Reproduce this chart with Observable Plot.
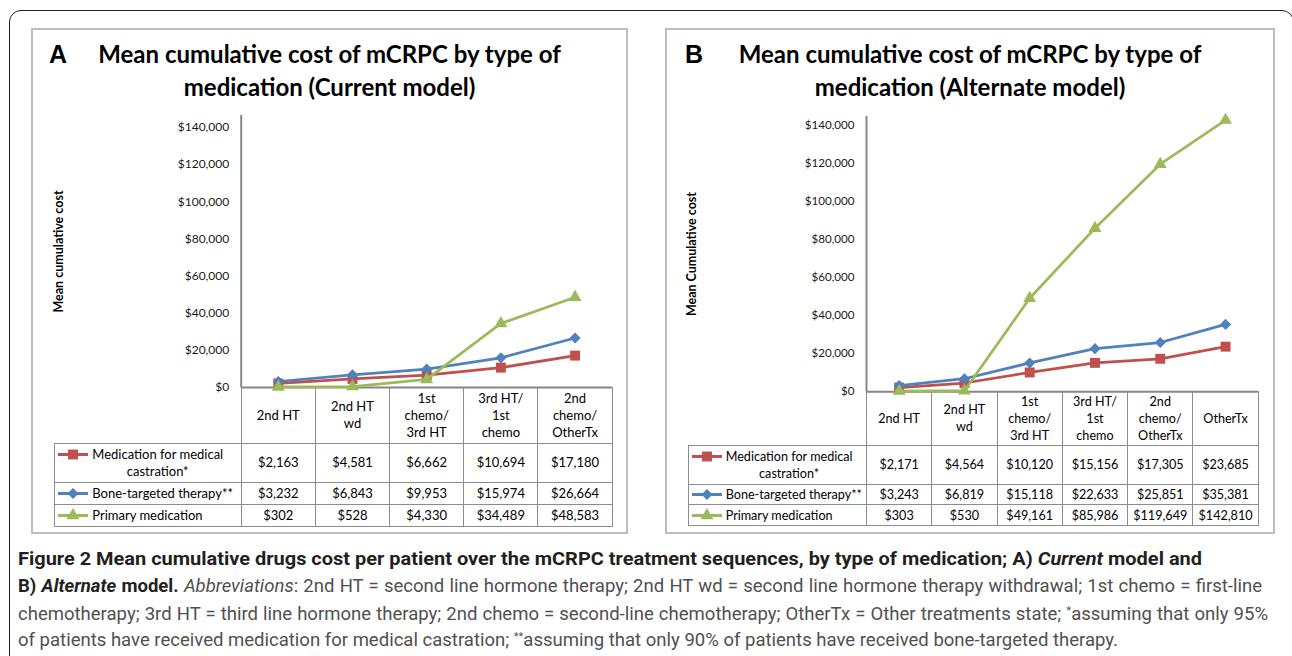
<!DOCTYPE html>
<html>
<head>
<meta charset="utf-8">
<script src="https://cdn.jsdelivr.net/npm/d3@7"></script>
<script src="https://cdn.jsdelivr.net/npm/@observablehq/plot@0.6"></script>
<style>
  html, body { margin: 0; padding: 0; background: #fff; }
  body { width: 1292px; height: 656px; position: relative; overflow: hidden; font-family: Lato, "Open Sans", sans-serif; }
  .outer { position: absolute; left: 9px; top: 10px; width: 1285px; height: 670px; border: 1.5px solid #231f20; border-radius: 12px; box-sizing: border-box; }
  .panel { position: absolute; border: 2px solid #bdbdbd; box-sizing: border-box; background: #fff; }
  .letter { position: absolute; font-family: "Liberation Sans", Arial, sans-serif; font-weight: bold; font-size: 25px; line-height: 25px; color: #000; }
  .title { position: absolute; text-align: center; font-family: Lato, sans-serif; font-weight: bold; font-size: 24px; line-height: 33px; color: #000; white-space: nowrap; }
  table.dt { position: absolute; border-collapse: collapse; table-layout: fixed; color: #000; font-family: Lato, sans-serif; }
  table.dt td { border: 1px solid #8c8c8c; padding: 0; text-align: center; vertical-align: middle; line-height: 17px; white-space: pre; overflow: visible; }
  table.dt td.blank { border: none; }
  table.dt td.lab { text-align: left; padding-left: 2px; }
  .labwrap { display: flex; align-items: flex-start; }
  .labtxt { display: inline-block; text-align: center; white-space: pre; margin-left: 3px; }
  .plotwrap { position: absolute; }
  .plotwrap svg { overflow: visible; }
  .cap { position: absolute; left: 18px; white-space: nowrap; font-family: Roboto, sans-serif; font-size: 17.5px; line-height: 19px; color: #505050; transform-origin: 0 0; }
  .cap b { color: #231f20; font-weight: bold; }
  .cap sup { font-size: 0.6em; line-height: 0; vertical-align: 0.6em; }
</style>
</head>
<body>
<div class="outer"></div>
<script>
// ---------------- DATA ----------------
const seriesNames = ["Medication for medical castration*", "Bone-targeted therapy**", "Primary medication"];
const seriesTableLabels = ["Medication for medical\ncastration*", "Bone-targeted therapy**", "Primary medication"];
const seriesColors = ["#C0504D", "#4F81BD", "#9BBB59"];
const seriesSymbols = ["square", "diamond2", "triangle"];

const categoriesA = ["2nd HT", "2nd HT\nwd", "1st\nchemo/\n3rd HT", "3rd HT/\n1st\nchemo", "2nd\nchemo/\nOtherTx"];
const castrationA = [2163, 4581, 6662, 10694, 17180];
const boneA = [3232, 6843, 9953, 15974, 26664];
const primaryA = [302, 528, 4330, 34489, 48583];

const categoriesB = ["2nd HT", "2nd HT\nwd", "1st\nchemo/\n3rd HT", "3rd HT/\n1st\nchemo", "2nd\nchemo/\nOtherTx", "OtherTx"];
const castrationB = [2171, 4564, 10120, 15156, 17305, 23685];
const boneB = [3243, 6819, 15118, 22633, 25851, 35381];
const primaryB = [303, 530, 49161, 85986, 119649, 142810];

const yTicks = [0, 20000, 40000, 60000, 80000, 100000, 120000, 140000];

const titleA = ["Mean cumulative cost of mCRPC by type of", "medication (Current model)"];
const titleB = ["Mean cumulative cost of mCRPC by type of", "medication (Alternate model)"];
const yTitleA = "Mean cumulative cost";
const yTitleB = "Mean Cumulative cost";

// ---------------- LAYOUT ----------------
const symbolR = [5.6, 5.0, 4.8];
const d3Symbols = {square: d3.symbolSquare, diamond2: d3.symbolDiamond2, triangle: d3.symbolTriangle};
const fmt = d3.format("$,");

const panels = [
  {letter: "A", title: titleA, yTitle: yTitleA, cats: categoriesA, series: [castrationA, boneA, primaryA],
   box: {l: 31, t: 28, r: 628, b: 534}, frameL: 240.7, frameR: 611.7, axisTop: 115, zero: 387, yTop: 146460,
   tableL: 54.3, rowH: [56, 39, 22.7, 21.7], yTitleX: 58, font: 13, tickFont: 12, letterL: 49},
  {letter: "B", title: titleB, yTitle: yTitleB, cats: categoriesB, series: [castrationB, boneB, primaryB],
   box: {l: 665, t: 28, r: 1275, b: 534}, frameL: 866, frameR: 1257.7, axisTop: 116, zero: 391.2, yTop: 144725,
   tableL: 687.7, rowH: [54.5, 38.6, 20.7, 21], yTitleX: 691, font: 12.6, tickFont: 11.6, letterL: 685}
];

function el(tag, cls, parent) {
  const e = document.createElement(tag);
  if (cls) e.className = cls;
  (parent || document.body).appendChild(e);
  return e;
}

function keySwatch(s) {
  const svg = d3.create("svg").attr("width", 32).attr("height", 17).style("flex", "none").style("display", "block");
  svg.append("line").attr("x1", 1).attr("x2", 31).attr("y1", 8.5).attr("y2", 8.5)
    .attr("stroke", seriesColors[s]).attr("stroke-width", 3);
  svg.append("path").attr("transform", "translate(16,8.5)")
    .attr("d", d3.symbol(d3Symbols[seriesSymbols[s]], Math.PI * symbolR[s] * symbolR[s])())
    .attr("fill", seriesColors[s]);
  return svg.node();
}

function drawPanel(p) {
  const box = el("div", "panel");
  Object.assign(box.style, {left: p.box.l + "px", top: p.box.t + "px", width: (p.box.r - p.box.l) + "px", height: (p.box.b - p.box.t) + "px"});

  const letter = el("div", "letter");
  letter.textContent = p.letter;
  Object.assign(letter.style, {left: p.letterL + "px", top: "42px"});

  p.title.forEach((line, k) => {
    const t = el("div", "title");
    t.textContent = line;
    Object.assign(t.style, {left: p.box.l + "px", width: (p.box.r - p.box.l) + "px", top: (36.5 + 33 * k) + "px"});
  });

  const n = p.cats.length;
  const rows = [];
  p.series.forEach((vals, s) => vals.forEach((v, i) => rows.push({s, i, x: i + 0.5, y: v})));

  const svgL = p.box.l + 2;
  const mT = 12, mB = 12, mR = 14;
  const width = Math.round(p.frameR + mR - svgL);
  const marginLeft = p.frameL - svgL;
  const marginRight = width - (p.frameR - svgL);
  const height = mT + (p.zero - p.axisTop) + mB;

  const marks = [
    Plot.ruleY([0], {stroke: "#868686", strokeWidth: 2}),
    Plot.ruleX([0], {stroke: "#868686", strokeWidth: 2}),
    Plot.text([p.yTitle], {frameAnchor: "left", dx: -(p.frameL - p.yTitleX), rotate: -90, textAnchor: "middle",
      lineAnchor: "middle", fontWeight: "bold", fontSize: 12.5, fill: "#000"})
  ];
  seriesNames.forEach((name, s) => {
    const d = rows.filter(r => r.s === s);
    marks.push(Plot.line(d, {x: "x", y: "y", stroke: seriesColors[s], strokeWidth: 2.75}));
    marks.push(Plot.dot(d, {x: "x", y: "y", symbol: seriesSymbols[s], r: symbolR[s], fill: seriesColors[s], stroke: "none"}));
  });

  const plot = Plot.plot({
    width, height,
    marginLeft, marginRight, marginTop: mT, marginBottom: mB,
    x: {domain: [0, n], axis: null},
    y: {domain: [0, p.yTop], ticks: yTicks, tickFormat: fmt, tickSize: 0, tickPadding: 12, label: null},
    style: {fontFamily: "Lato, sans-serif", fontSize: p.tickFont + "px", color: "#1a1a1a", background: "transparent", overflow: "visible"},
    marks
  });

  // Data table aligned with the plot's x scale
  const sx = plot.scale("x");
  const xs = d3.range(n + 1).map(i => svgL + sx.apply(i));
  const table = el("table", "dt");
  Object.assign(table.style, {left: p.tableL + "px", top: (p.zero - 0.5) + "px", fontSize: p.font + "px"});
  const cg = el("colgroup", null, table);
  const c0 = el("col", null, cg); c0.style.width = (xs[0] - p.tableL) + "px";
  for (let i = 0; i < n; i++) { const c = el("col", null, cg); c.style.width = (xs[i + 1] - xs[i]) + "px"; }
  table.style.width = (xs[n] - p.tableL) + "px";
  const tbody = el("tbody", null, table);
  const hr = el("tr", null, tbody); hr.style.height = p.rowH[0] + "px";
  el("td", "blank", hr);
  p.cats.forEach(c => { const td = el("td", null, hr); td.textContent = c; });
  seriesNames.forEach((name, s) => {
    const tr = el("tr", null, tbody); tr.style.height = p.rowH[s + 1] + "px";
    const lab = el("td", "lab", tr);
    const wrap = el("div", "labwrap", lab);
    wrap.appendChild(keySwatch(s));
    const txt = el("div", "labtxt", wrap); txt.textContent = seriesTableLabels[s];
    p.series[s].forEach(v => { const td = el("td", null, tr); td.textContent = fmt(v); });
  });

  const wrapDiv = el("div", "plotwrap");
  Object.assign(wrapDiv.style, {left: svgL + "px", top: (p.axisTop - mT) + "px"});
  wrapDiv.appendChild(plot);
}

panels.forEach(drawPanel);

// ---------------- CAPTION ----------------
const captionLines = [
  '<b>Figure 2 Mean cumulative drugs cost per patient over the mCRPC treatment sequences, by type of medication; A) <i>Current</i> model and</b>',
  '<b>B) <i>Alternate</i> model.</b> <i>Abbreviations</i>: 2nd HT = second line hormone therapy; 2nd HT wd = second line hormone therapy withdrawal; 1st chemo = first-line',
  'chemotherapy; 3rd HT = third line hormone therapy; 2nd chemo = second-line chemotherapy; OtherTx = Other treatments state; <sup>*</sup>assuming that only 95%',
  'of patients have received medication for medical castration; <sup>**</sup>assuming that only 90% of patients have received bone-targeted therapy.'
];
// target widths: last line is natural (unjustified); lines 2-3 are justified
const capTargets = [1184, 1244, 1250, 1100];
const capTops = [549.5, 577.2, 604.5, 631.2];
const capDivs = captionLines.map((html, k) => {
  const d = el("div", "cap");
  d.innerHTML = html;
  d.style.top = capTops[k] + "px";
  return d;
});
const widths = capDivs.map(d => d.getBoundingClientRect().width);
const baseScale = capTargets[3] / widths[3];
capDivs.forEach((d, k) => {
  if (k === 0) {
    d.style.transform = `scaleX(${capTargets[0] / widths[0]})`;
  } else if (k === 3) {
    d.style.transform = `scaleX(${baseScale})`;
  } else {
    const spaces = (d.textContent.match(/ /g) || []).length;
    const extra = (capTargets[k] / baseScale - widths[k]) / spaces;
    d.style.wordSpacing = extra + "px";
    d.style.transform = `scaleX(${baseScale})`;
  }
});
</script>
</body>
</html>
